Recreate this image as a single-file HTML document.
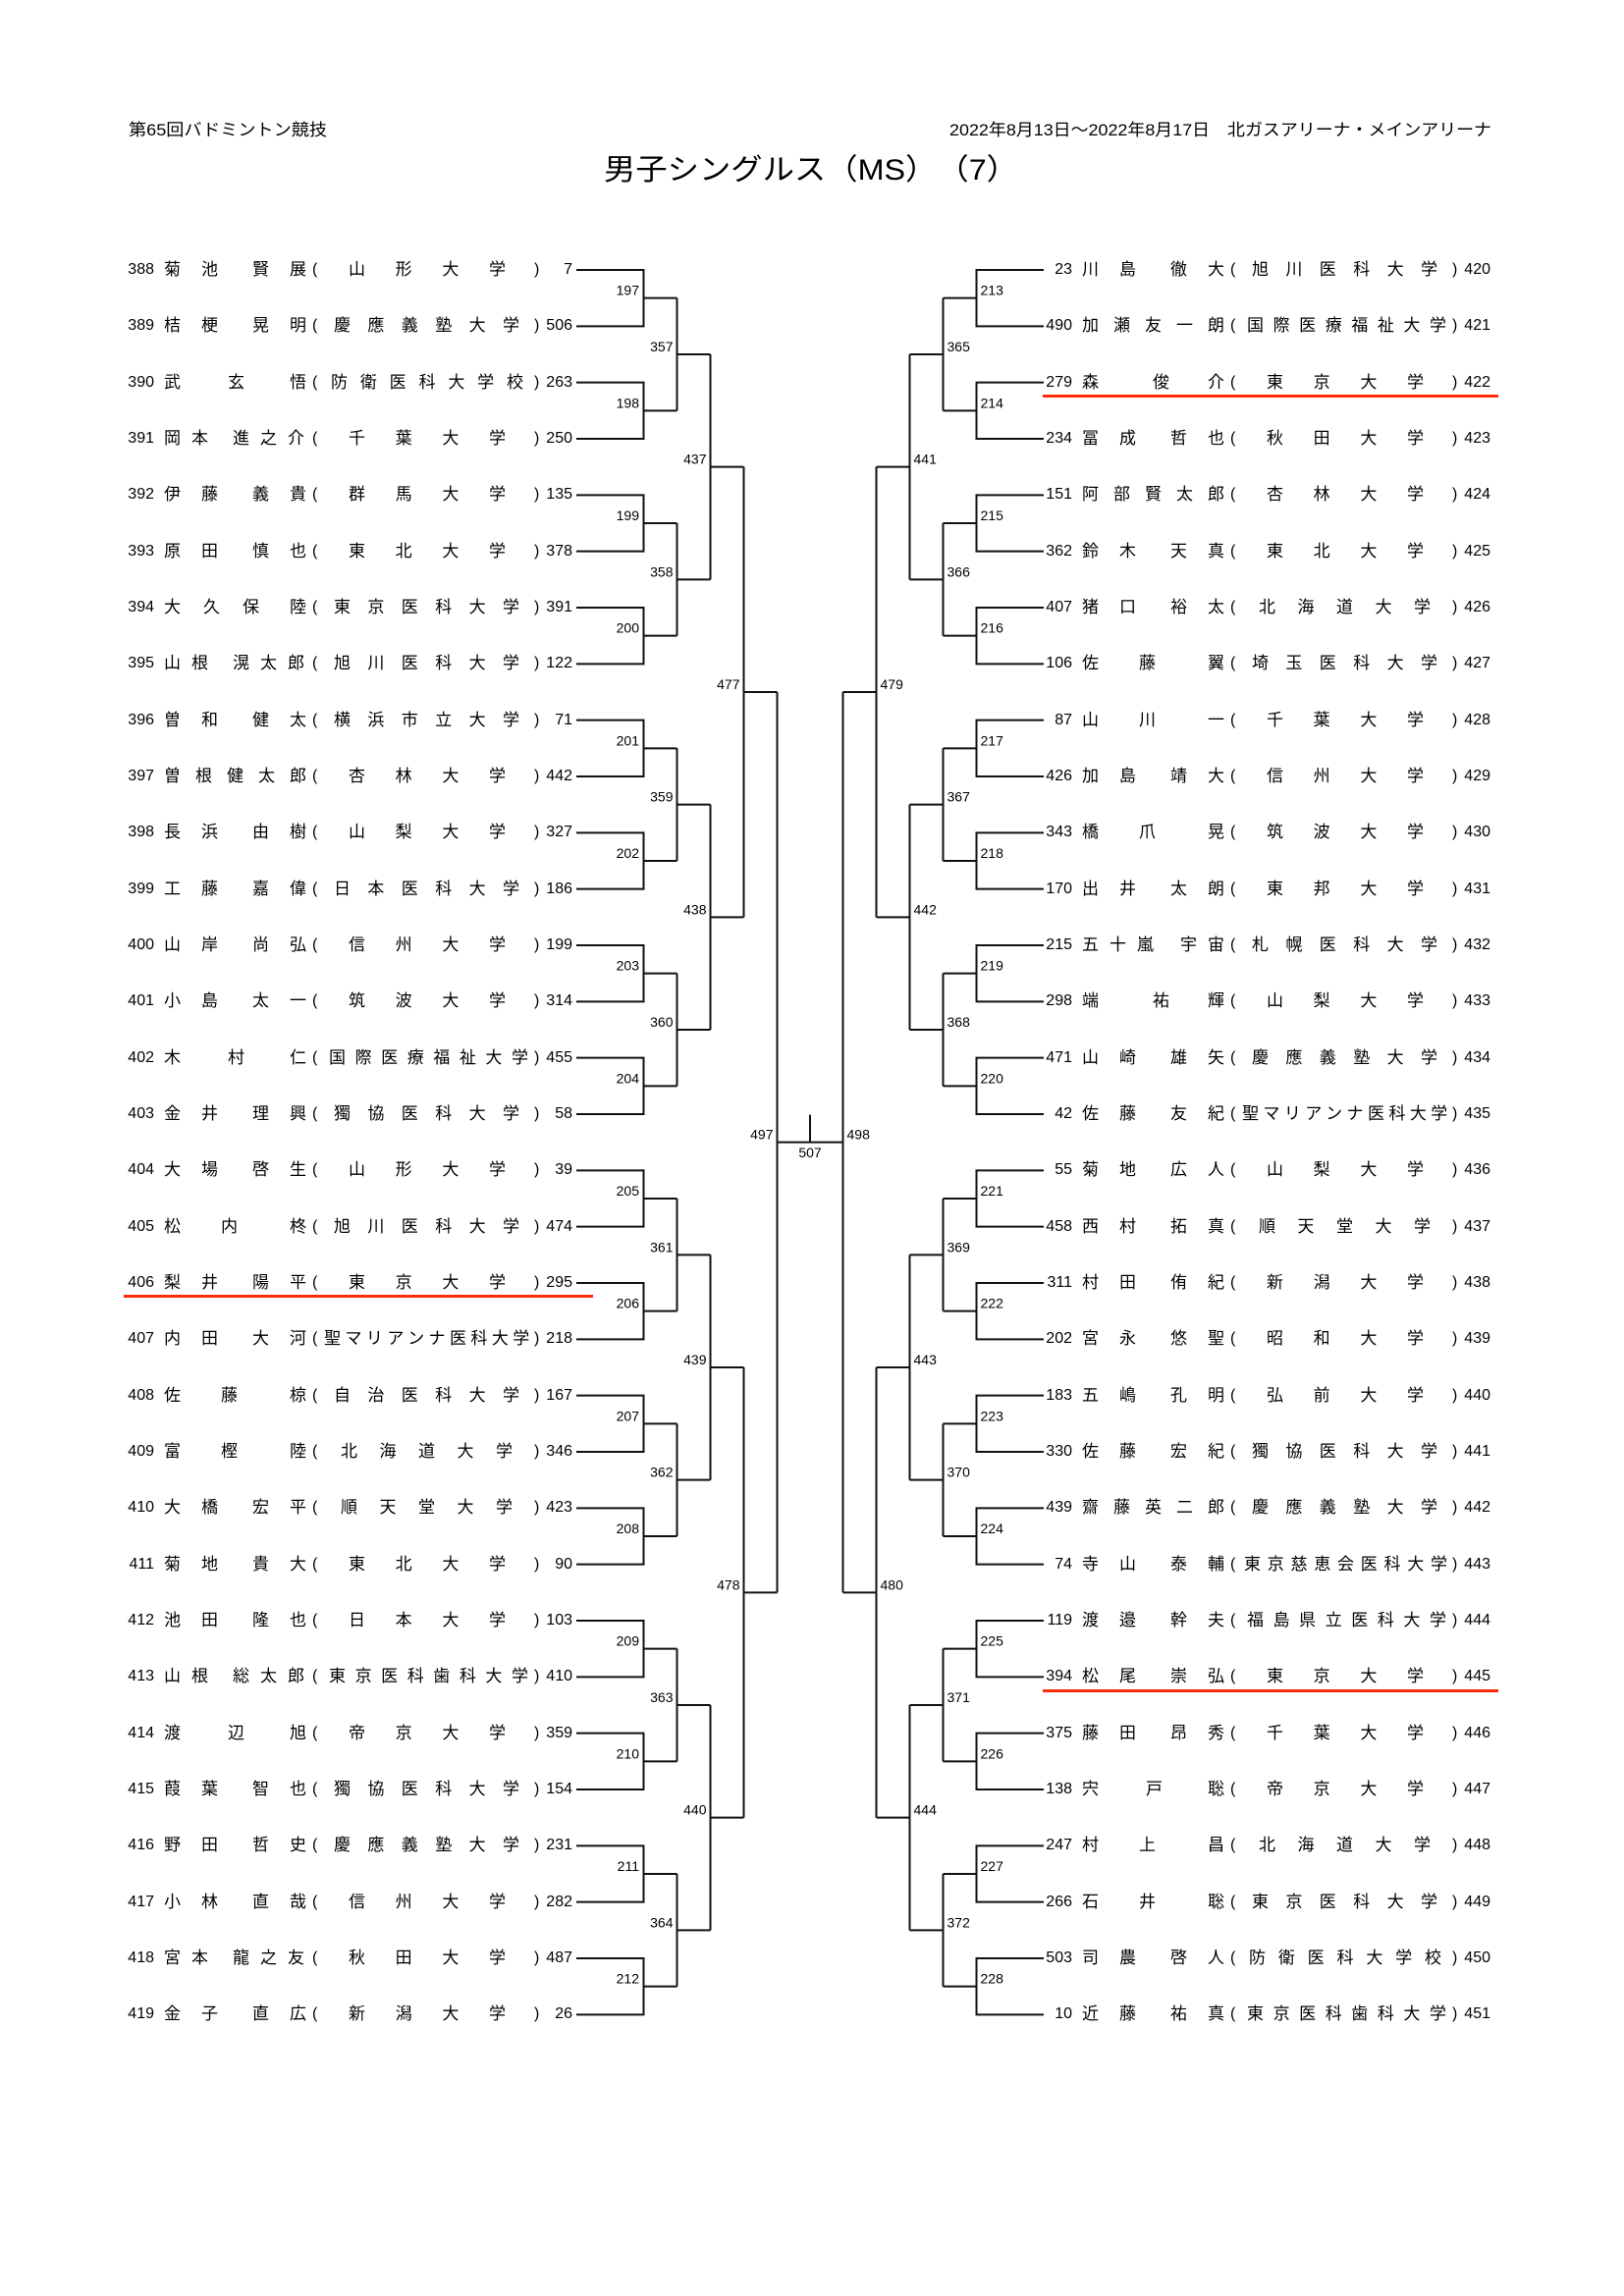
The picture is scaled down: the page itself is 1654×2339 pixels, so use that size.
<!DOCTYPE html>
<html><head><meta charset="utf-8">
<style>
html,body{margin:0;padding:0;background:#fff;}
body{width:1654px;height:2339px;position:relative;overflow:hidden;}
svg.bg{position:absolute;left:0;top:0;}
.r{position:absolute;height:24px;line-height:24px;font-size:17px;font-family:"Liberation Sans","Noto Sans CJK JP",sans-serif;white-space:nowrap;color:#000;width:600px;}
.r>span{position:absolute;top:0;}
.no{left:0;width:157px;text-align:right;font-size:16px;}
.en{left:0;width:583px;text-align:right;font-size:16px;}
.nm{left:167px;}
.nm b{position:absolute;top:0;font-weight:normal;}
.lp{left:318px;font-size:16px;}
.rp{left:544px;font-size:16px;}
.p22 b{letter-spacing:21px;} .p22 b+b{left:90px;}
.p23 b{letter-spacing:11px;} .p23 b+b{left:70px;}
.p5 b{letter-spacing:15px;}
.p32 b{letter-spacing:11px;} .p32 b+b{left:100px;}
.p31 b{letter-spacing:23px;} .p31 b+b{left:128px;}
.m58 b+b{left:58px;} .m65 b+b{left:65px;} .m72 b+b{left:72px;}
.m58 b+b+b,.m65 b+b+b,.m72 b+b+b{left:128px;}
.u4{left:355px;letter-spacing:30.67px;}
.u5{left:347px;letter-spacing:22.5px;}
.u6{left:340px;letter-spacing:17.4px;}
.u7{left:337px;letter-spacing:12.83px;}
.u8{left:335px;letter-spacing:9.57px;}
.u9{left:332px;letter-spacing:6.75px;}
.u10{left:330px;letter-spacing:4.44px;}
.L{left:0;} .R{left:935px;}
.red{position:absolute;height:3px;background:#ff2a0a;}
</style></head><body>
<svg class="bg" width="1654" height="2339" viewBox="0 0 1654 2339" xmlns="http://www.w3.org/2000/svg">
<defs>
<path id="L1" d="M587 0H655.5V57.33H587M655.5 28.67H689.5"/>
<path id="L2" d="M689.5 28.67V143.33M689.5 86H723.5"/>
<path id="L3" d="M723.5 86V315.33M723.5 200.67H757.5"/>
<path id="L4" d="M757.5 200.67V659.33M757.5 430H791.5"/>
<path id="R1" d="M1063 0H994.5V57.33H1063M994.5 28.67H960.5"/>
<path id="R2" d="M960.5 28.67V143.33M960.5 86H926.5"/>
<path id="R3" d="M926.5 86V315.33M926.5 200.67H892.5"/>
<path id="R4" d="M892.5 200.67V659.33M892.5 430H858.5"/>
</defs>
<g font-family="Liberation Sans, Noto Sans CJK JP, sans-serif" fill="#000">
<text x="131" y="138" font-size="17" textLength="202" lengthAdjust="spacingAndGlyphs">第65回バドミントン競技</text>
<text x="967" y="138" font-size="17" textLength="552" lengthAdjust="spacingAndGlyphs">2022年8月13日～2022年8月17日　北ガスアリーナ・メインアリーナ</text>
<text x="615" y="183" font-size="30" textLength="422" lengthAdjust="spacingAndGlyphs">男子シングルス（MS）　（7）</text>
</g>
<g fill="none" stroke="#111" stroke-width="2">
<use href="#L1" transform="translate(0,275)"/><use href="#L1" transform="translate(0,389.67)"/><use href="#L1" transform="translate(0,504.33)"/><use href="#L1" transform="translate(0,619)"/>
<use href="#L1" transform="translate(0,733.67)"/><use href="#L1" transform="translate(0,848.33)"/><use href="#L1" transform="translate(0,963)"/><use href="#L1" transform="translate(0,1077.67)"/>
<use href="#L1" transform="translate(0,1192.33)"/><use href="#L1" transform="translate(0,1307)"/><use href="#L1" transform="translate(0,1421.67)"/><use href="#L1" transform="translate(0,1536.33)"/>
<use href="#L1" transform="translate(0,1651)"/><use href="#L1" transform="translate(0,1765.67)"/><use href="#L1" transform="translate(0,1880.33)"/><use href="#L1" transform="translate(0,1995)"/>
<use href="#L2" transform="translate(0,275)"/><use href="#L2" transform="translate(0,504.33)"/><use href="#L2" transform="translate(0,733.67)"/><use href="#L2" transform="translate(0,963)"/>
<use href="#L2" transform="translate(0,1192.33)"/><use href="#L2" transform="translate(0,1421.67)"/><use href="#L2" transform="translate(0,1651)"/><use href="#L2" transform="translate(0,1880.33)"/>
<use href="#L3" transform="translate(0,275)"/><use href="#L3" transform="translate(0,733.67)"/><use href="#L3" transform="translate(0,1192.33)"/><use href="#L3" transform="translate(0,1651)"/>
<use href="#L4" transform="translate(0,275)"/><use href="#L4" transform="translate(0,1192.33)"/>
<use href="#R1" transform="translate(0,275)"/><use href="#R1" transform="translate(0,389.67)"/><use href="#R1" transform="translate(0,504.33)"/><use href="#R1" transform="translate(0,619)"/>
<use href="#R1" transform="translate(0,733.67)"/><use href="#R1" transform="translate(0,848.33)"/><use href="#R1" transform="translate(0,963)"/><use href="#R1" transform="translate(0,1077.67)"/>
<use href="#R1" transform="translate(0,1192.33)"/><use href="#R1" transform="translate(0,1307)"/><use href="#R1" transform="translate(0,1421.67)"/><use href="#R1" transform="translate(0,1536.33)"/>
<use href="#R1" transform="translate(0,1651)"/><use href="#R1" transform="translate(0,1765.67)"/><use href="#R1" transform="translate(0,1880.33)"/><use href="#R1" transform="translate(0,1995)"/>
<use href="#R2" transform="translate(0,275)"/><use href="#R2" transform="translate(0,504.33)"/><use href="#R2" transform="translate(0,733.67)"/><use href="#R2" transform="translate(0,963)"/>
<use href="#R2" transform="translate(0,1192.33)"/><use href="#R2" transform="translate(0,1421.67)"/><use href="#R2" transform="translate(0,1651)"/><use href="#R2" transform="translate(0,1880.33)"/>
<use href="#R3" transform="translate(0,275)"/><use href="#R3" transform="translate(0,733.67)"/><use href="#R3" transform="translate(0,1192.33)"/><use href="#R3" transform="translate(0,1651)"/>
<use href="#R4" transform="translate(0,275)"/><use href="#R4" transform="translate(0,1192.33)"/>
<path d="M791.5 705V1622.33M791.5 1163.67H858.5M858.5 705V1622.33M825 1135.67V1163.67"/>
</g>
<g font-family="Liberation Sans, sans-serif" font-size="14" fill="#000">
<g text-anchor="end">
<text x="651" y="300.7">197</text><text x="651" y="415.3">198</text><text x="651" y="530">199</text><text x="651" y="644.7">200</text>
<text x="651" y="759.3">201</text><text x="651" y="874">202</text><text x="651" y="988.7">203</text><text x="651" y="1103.3">204</text>
<text x="651" y="1218">205</text><text x="651" y="1332.7">206</text><text x="651" y="1447.3">207</text><text x="651" y="1562">208</text>
<text x="651" y="1676.7">209</text><text x="651" y="1791.3">210</text><text x="651" y="1906">211</text><text x="651" y="2020.7">212</text>
<text x="685.5" y="358">357</text><text x="685.5" y="587.3">358</text><text x="685.5" y="816.7">359</text><text x="685.5" y="1046">360</text>
<text x="685.5" y="1275.3">361</text><text x="685.5" y="1504.7">362</text><text x="685.5" y="1734">363</text><text x="685.5" y="1963.3">364</text>
<text x="719.5" y="472.7">437</text><text x="719.5" y="931.3">438</text><text x="719.5" y="1390">439</text><text x="719.5" y="1848.7">440</text>
<text x="753.5" y="702">477</text><text x="753.5" y="1619.3">478</text>
<text x="787.5" y="1160.7">497</text>
</g>
<g>
<text x="998.5" y="300.7">213</text><text x="998.5" y="415.3">214</text><text x="998.5" y="530">215</text><text x="998.5" y="644.7">216</text>
<text x="998.5" y="759.3">217</text><text x="998.5" y="874">218</text><text x="998.5" y="988.7">219</text><text x="998.5" y="1103.3">220</text>
<text x="998.5" y="1218">221</text><text x="998.5" y="1332.7">222</text><text x="998.5" y="1447.3">223</text><text x="998.5" y="1562">224</text>
<text x="998.5" y="1676.7">225</text><text x="998.5" y="1791.3">226</text><text x="998.5" y="1906">227</text><text x="998.5" y="2020.7">228</text>
<text x="964.5" y="358">365</text><text x="964.5" y="587.3">366</text><text x="964.5" y="816.7">367</text><text x="964.5" y="1046">368</text>
<text x="964.5" y="1275.3">369</text><text x="964.5" y="1504.7">370</text><text x="964.5" y="1734">371</text><text x="964.5" y="1963.3">372</text>
<text x="930.5" y="472.7">441</text><text x="930.5" y="931.3">442</text><text x="930.5" y="1390">443</text><text x="930.5" y="1848.7">444</text>
<text x="896.5" y="702">479</text><text x="896.5" y="1619.3">480</text>
<text x="862.5" y="1160.7">498</text>
</g>
<text x="825" y="1179" text-anchor="middle">507</text>
</g>
</svg>

<!-- LEFT -->
<div class="r L" style="top:263px"><span class="no">388</span><span class="nm p22"><b>菊池</b><b>賢展</b></span><span class="lp">(</span><span class="u4">山形大学</span><span class="rp">)</span><span class="en">7</span></div>
<div class="r L" style="top:320.33px"><span class="no">389</span><span class="nm p22"><b>桔梗</b><b>晃明</b></span><span class="lp">(</span><span class="u6">慶應義塾大学</span><span class="rp">)</span><span class="en">506</span></div>
<div class="r L" style="top:377.67px"><span class="no">390</span><span class="nm m65"><b>武</b><b>玄</b><b>悟</b></span><span class="lp">(</span><span class="u7">防衛医科大学校</span><span class="rp">)</span><span class="en">263</span></div>
<div class="r L" style="top:435px"><span class="no">391</span><span class="nm p23"><b>岡本</b><b>進之介</b></span><span class="lp">(</span><span class="u4">千葉大学</span><span class="rp">)</span><span class="en">250</span></div>
<div class="r L" style="top:492.33px"><span class="no">392</span><span class="nm p22"><b>伊藤</b><b>義貴</b></span><span class="lp">(</span><span class="u4">群馬大学</span><span class="rp">)</span><span class="en">135</span></div>
<div class="r L" style="top:549.67px"><span class="no">393</span><span class="nm p22"><b>原田</b><b>慎也</b></span><span class="lp">(</span><span class="u4">東北大学</span><span class="rp">)</span><span class="en">378</span></div>
<div class="r L" style="top:607px"><span class="no">394</span><span class="nm p31"><b>大久保</b><b>陸</b></span><span class="lp">(</span><span class="u6">東京医科大学</span><span class="rp">)</span><span class="en">391</span></div>
<div class="r L" style="top:664.33px"><span class="no">395</span><span class="nm p23"><b>山根</b><b>滉太郎</b></span><span class="lp">(</span><span class="u6">旭川医科大学</span><span class="rp">)</span><span class="en">122</span></div>
<div class="r L" style="top:721.67px"><span class="no">396</span><span class="nm p22"><b>曽和</b><b>健太</b></span><span class="lp">(</span><span class="u6">横浜市立大学</span><span class="rp">)</span><span class="en">71</span></div>
<div class="r L" style="top:779px"><span class="no">397</span><span class="nm p5"><b>曽根健太郎</b></span><span class="lp">(</span><span class="u4">杏林大学</span><span class="rp">)</span><span class="en">442</span></div>
<div class="r L" style="top:836.33px"><span class="no">398</span><span class="nm p22"><b>長浜</b><b>由樹</b></span><span class="lp">(</span><span class="u4">山梨大学</span><span class="rp">)</span><span class="en">327</span></div>
<div class="r L" style="top:893.67px"><span class="no">399</span><span class="nm p22"><b>工藤</b><b>嘉偉</b></span><span class="lp">(</span><span class="u6">日本医科大学</span><span class="rp">)</span><span class="en">186</span></div>
<div class="r L" style="top:951px"><span class="no">400</span><span class="nm p22"><b>山岸</b><b>尚弘</b></span><span class="lp">(</span><span class="u4">信州大学</span><span class="rp">)</span><span class="en">199</span></div>
<div class="r L" style="top:1008.33px"><span class="no">401</span><span class="nm p22"><b>小島</b><b>太一</b></span><span class="lp">(</span><span class="u4">筑波大学</span><span class="rp">)</span><span class="en">314</span></div>
<div class="r L" style="top:1065.67px"><span class="no">402</span><span class="nm m65"><b>木</b><b>村</b><b>仁</b></span><span class="lp">(</span><span class="u8">国際医療福祉大学</span><span class="rp">)</span><span class="en">455</span></div>
<div class="r L" style="top:1123px"><span class="no">403</span><span class="nm p22"><b>金井</b><b>理興</b></span><span class="lp">(</span><span class="u6">獨協医科大学</span><span class="rp">)</span><span class="en">58</span></div>
<div class="r L" style="top:1180.33px"><span class="no">404</span><span class="nm p22"><b>大場</b><b>啓生</b></span><span class="lp">(</span><span class="u4">山形大学</span><span class="rp">)</span><span class="en">39</span></div>
<div class="r L" style="top:1237.67px"><span class="no">405</span><span class="nm m58"><b>松</b><b>内</b><b>柊</b></span><span class="lp">(</span><span class="u6">旭川医科大学</span><span class="rp">)</span><span class="en">474</span></div>
<div class="r L" style="top:1295px"><span class="no">406</span><span class="nm p22"><b>梨井</b><b>陽平</b></span><span class="lp">(</span><span class="u4">東京大学</span><span class="rp">)</span><span class="en">295</span></div>
<div class="r L" style="top:1352.33px"><span class="no">407</span><span class="nm p22"><b>内田</b><b>大河</b></span><span class="lp">(</span><span class="u10">聖マリアンナ医科大学</span><span class="rp">)</span><span class="en">218</span></div>
<div class="r L" style="top:1409.67px"><span class="no">408</span><span class="nm m58"><b>佐</b><b>藤</b><b>椋</b></span><span class="lp">(</span><span class="u6">自治医科大学</span><span class="rp">)</span><span class="en">167</span></div>
<div class="r L" style="top:1467px"><span class="no">409</span><span class="nm m58"><b>富</b><b>樫</b><b>陸</b></span><span class="lp">(</span><span class="u5">北海道大学</span><span class="rp">)</span><span class="en">346</span></div>
<div class="r L" style="top:1524.33px"><span class="no">410</span><span class="nm p22"><b>大橋</b><b>宏平</b></span><span class="lp">(</span><span class="u5">順天堂大学</span><span class="rp">)</span><span class="en">423</span></div>
<div class="r L" style="top:1581.67px"><span class="no">411</span><span class="nm p22"><b>菊地</b><b>貴大</b></span><span class="lp">(</span><span class="u4">東北大学</span><span class="rp">)</span><span class="en">90</span></div>
<div class="r L" style="top:1639px"><span class="no">412</span><span class="nm p22"><b>池田</b><b>隆也</b></span><span class="lp">(</span><span class="u4">日本大学</span><span class="rp">)</span><span class="en">103</span></div>
<div class="r L" style="top:1696.33px"><span class="no">413</span><span class="nm p23"><b>山根</b><b>総太郎</b></span><span class="lp">(</span><span class="u8">東京医科歯科大学</span><span class="rp">)</span><span class="en">410</span></div>
<div class="r L" style="top:1753.67px"><span class="no">414</span><span class="nm m65"><b>渡</b><b>辺</b><b>旭</b></span><span class="lp">(</span><span class="u4">帝京大学</span><span class="rp">)</span><span class="en">359</span></div>
<div class="r L" style="top:1811px"><span class="no">415</span><span class="nm p22"><b>葭葉</b><b>智也</b></span><span class="lp">(</span><span class="u6">獨協医科大学</span><span class="rp">)</span><span class="en">154</span></div>
<div class="r L" style="top:1868.33px"><span class="no">416</span><span class="nm p22"><b>野田</b><b>哲史</b></span><span class="lp">(</span><span class="u6">慶應義塾大学</span><span class="rp">)</span><span class="en">231</span></div>
<div class="r L" style="top:1925.67px"><span class="no">417</span><span class="nm p22"><b>小林</b><b>直哉</b></span><span class="lp">(</span><span class="u4">信州大学</span><span class="rp">)</span><span class="en">282</span></div>
<div class="r L" style="top:1983px"><span class="no">418</span><span class="nm p23"><b>宮本</b><b>龍之友</b></span><span class="lp">(</span><span class="u4">秋田大学</span><span class="rp">)</span><span class="en">487</span></div>
<div class="r L" style="top:2040.33px"><span class="no">419</span><span class="nm p22"><b>金子</b><b>直広</b></span><span class="lp">(</span><span class="u4">新潟大学</span><span class="rp">)</span><span class="en">26</span></div>

<!-- RIGHT -->
<div class="r R" style="top:263px"><span class="no">23</span><span class="nm p22"><b>川島</b><b>徹大</b></span><span class="lp">(</span><span class="u6">旭川医科大学</span><span class="rp">)</span><span class="en">420</span></div>
<div class="r R" style="top:320.33px"><span class="no">490</span><span class="nm p5"><b>加瀬友一朗</b></span><span class="lp">(</span><span class="u8">国際医療福祉大学</span><span class="rp">)</span><span class="en">421</span></div>
<div class="r R" style="top:377.67px"><span class="no">279</span><span class="nm m72"><b>森</b><b>俊</b><b>介</b></span><span class="lp">(</span><span class="u4">東京大学</span><span class="rp">)</span><span class="en">422</span></div>
<div class="r R" style="top:435px"><span class="no">234</span><span class="nm p22"><b>冨成</b><b>哲也</b></span><span class="lp">(</span><span class="u4">秋田大学</span><span class="rp">)</span><span class="en">423</span></div>
<div class="r R" style="top:492.33px"><span class="no">151</span><span class="nm p5"><b>阿部賢太郎</b></span><span class="lp">(</span><span class="u4">杏林大学</span><span class="rp">)</span><span class="en">424</span></div>
<div class="r R" style="top:549.67px"><span class="no">362</span><span class="nm p22"><b>鈴木</b><b>天真</b></span><span class="lp">(</span><span class="u4">東北大学</span><span class="rp">)</span><span class="en">425</span></div>
<div class="r R" style="top:607px"><span class="no">407</span><span class="nm p22"><b>猪口</b><b>裕太</b></span><span class="lp">(</span><span class="u5">北海道大学</span><span class="rp">)</span><span class="en">426</span></div>
<div class="r R" style="top:664.33px"><span class="no">106</span><span class="nm m58"><b>佐</b><b>藤</b><b>翼</b></span><span class="lp">(</span><span class="u6">埼玉医科大学</span><span class="rp">)</span><span class="en">427</span></div>
<div class="r R" style="top:721.67px"><span class="no">87</span><span class="nm m58"><b>山</b><b>川</b><b>一</b></span><span class="lp">(</span><span class="u4">千葉大学</span><span class="rp">)</span><span class="en">428</span></div>
<div class="r R" style="top:779px"><span class="no">426</span><span class="nm p22"><b>加島</b><b>靖大</b></span><span class="lp">(</span><span class="u4">信州大学</span><span class="rp">)</span><span class="en">429</span></div>
<div class="r R" style="top:836.33px"><span class="no">343</span><span class="nm m58"><b>橋</b><b>爪</b><b>晃</b></span><span class="lp">(</span><span class="u4">筑波大学</span><span class="rp">)</span><span class="en">430</span></div>
<div class="r R" style="top:893.67px"><span class="no">170</span><span class="nm p22"><b>出井</b><b>太朗</b></span><span class="lp">(</span><span class="u4">東邦大学</span><span class="rp">)</span><span class="en">431</span></div>
<div class="r R" style="top:951px"><span class="no">215</span><span class="nm p32"><b>五十嵐</b><b>宇宙</b></span><span class="lp">(</span><span class="u6">札幌医科大学</span><span class="rp">)</span><span class="en">432</span></div>
<div class="r R" style="top:1008.33px"><span class="no">298</span><span class="nm m72"><b>端</b><b>祐</b><b>輝</b></span><span class="lp">(</span><span class="u4">山梨大学</span><span class="rp">)</span><span class="en">433</span></div>
<div class="r R" style="top:1065.67px"><span class="no">471</span><span class="nm p22"><b>山崎</b><b>雄矢</b></span><span class="lp">(</span><span class="u6">慶應義塾大学</span><span class="rp">)</span><span class="en">434</span></div>
<div class="r R" style="top:1123px"><span class="no">42</span><span class="nm p22"><b>佐藤</b><b>友紀</b></span><span class="lp">(</span><span class="u10">聖マリアンナ医科大学</span><span class="rp">)</span><span class="en">435</span></div>
<div class="r R" style="top:1180.33px"><span class="no">55</span><span class="nm p22"><b>菊地</b><b>広人</b></span><span class="lp">(</span><span class="u4">山梨大学</span><span class="rp">)</span><span class="en">436</span></div>
<div class="r R" style="top:1237.67px"><span class="no">458</span><span class="nm p22"><b>西村</b><b>拓真</b></span><span class="lp">(</span><span class="u5">順天堂大学</span><span class="rp">)</span><span class="en">437</span></div>
<div class="r R" style="top:1295px"><span class="no">311</span><span class="nm p22"><b>村田</b><b>侑紀</b></span><span class="lp">(</span><span class="u4">新潟大学</span><span class="rp">)</span><span class="en">438</span></div>
<div class="r R" style="top:1352.33px"><span class="no">202</span><span class="nm p22"><b>宮永</b><b>悠聖</b></span><span class="lp">(</span><span class="u4">昭和大学</span><span class="rp">)</span><span class="en">439</span></div>
<div class="r R" style="top:1409.67px"><span class="no">183</span><span class="nm p22"><b>五嶋</b><b>孔明</b></span><span class="lp">(</span><span class="u4">弘前大学</span><span class="rp">)</span><span class="en">440</span></div>
<div class="r R" style="top:1467px"><span class="no">330</span><span class="nm p22"><b>佐藤</b><b>宏紀</b></span><span class="lp">(</span><span class="u6">獨協医科大学</span><span class="rp">)</span><span class="en">441</span></div>
<div class="r R" style="top:1524.33px"><span class="no">439</span><span class="nm p5"><b>齋藤英二郎</b></span><span class="lp">(</span><span class="u6">慶應義塾大学</span><span class="rp">)</span><span class="en">442</span></div>
<div class="r R" style="top:1581.67px"><span class="no">74</span><span class="nm p22"><b>寺山</b><b>泰輔</b></span><span class="lp">(</span><span class="u9">東京慈恵会医科大学</span><span class="rp">)</span><span class="en">443</span></div>
<div class="r R" style="top:1639px"><span class="no">119</span><span class="nm p22"><b>渡邉</b><b>幹夫</b></span><span class="lp">(</span><span class="u8">福島県立医科大学</span><span class="rp">)</span><span class="en">444</span></div>
<div class="r R" style="top:1696.33px"><span class="no">394</span><span class="nm p22"><b>松尾</b><b>崇弘</b></span><span class="lp">(</span><span class="u4">東京大学</span><span class="rp">)</span><span class="en">445</span></div>
<div class="r R" style="top:1753.67px"><span class="no">375</span><span class="nm p22"><b>藤田</b><b>昂秀</b></span><span class="lp">(</span><span class="u4">千葉大学</span><span class="rp">)</span><span class="en">446</span></div>
<div class="r R" style="top:1811px"><span class="no">138</span><span class="nm m65"><b>宍</b><b>戸</b><b>聡</b></span><span class="lp">(</span><span class="u4">帝京大学</span><span class="rp">)</span><span class="en">447</span></div>
<div class="r R" style="top:1868.33px"><span class="no">247</span><span class="nm m58"><b>村</b><b>上</b><b>昌</b></span><span class="lp">(</span><span class="u5">北海道大学</span><span class="rp">)</span><span class="en">448</span></div>
<div class="r R" style="top:1925.67px"><span class="no">266</span><span class="nm m58"><b>石</b><b>井</b><b>聡</b></span><span class="lp">(</span><span class="u6">東京医科大学</span><span class="rp">)</span><span class="en">449</span></div>
<div class="r R" style="top:1983px"><span class="no">503</span><span class="nm p22"><b>司農</b><b>啓人</b></span><span class="lp">(</span><span class="u7">防衛医科大学校</span><span class="rp">)</span><span class="en">450</span></div>
<div class="r R" style="top:2040.33px"><span class="no">10</span><span class="nm p22"><b>近藤</b><b>祐真</b></span><span class="lp">(</span><span class="u8">東京医科歯科大学</span><span class="rp">)</span><span class="en">451</span></div>

<div class="red" style="left:126px;top:1319px;width:478px;"></div>
<div class="red" style="left:1062px;top:402px;width:464px;"></div>
<div class="red" style="left:1062px;top:1721px;width:464px;"></div>
</body></html>
